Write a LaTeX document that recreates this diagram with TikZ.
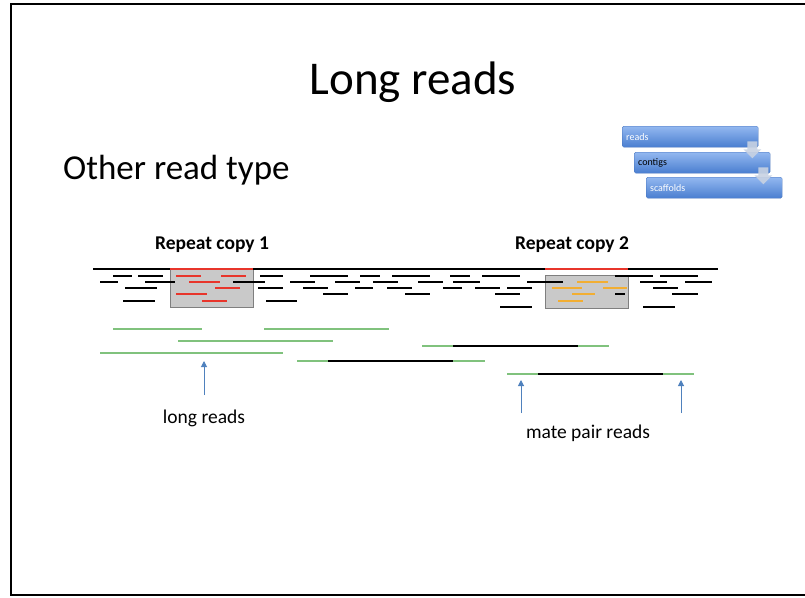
\documentclass[tikz,border=0pt]{standalone}
\usepackage{fontspec}
\setmainfont{Carlito}
\usetikzlibrary{calc,arrows.meta}
\definecolor{rdred}{HTML}{E8352B}
\definecolor{rdorange}{HTML}{F2AE32}
\definecolor{rdgreen}{HTML}{80C27D}
\definecolor{boxgray}{HTML}{C9C9C9}
\definecolor{boxedge}{HTML}{7F7F7F}
\definecolor{arrblue}{HTML}{4F81BD}
\definecolor{smtop}{HTML}{93B8F0}
\definecolor{smbot}{HTML}{4A7ED0}
\definecolor{smarr}{HTML}{C8D2E2}
\tikzset{
  rd/.style={line width=2.9pt, black},
  rdr/.style={line width=2.7pt, rdred},
  rdo/.style={line width=2.7pt, rdorange},
  gen/.style={line width=2.3pt, black},
  lr/.style={line width=2.3pt, rdgreen},
  mp/.style={line width=2.3pt, black},
  rbox/.style={fill=boxgray, draw=boxedge, line width=1pt},
  uparr/.style={draw=arrblue, line width=1pt, -{Triangle[length=6pt,width=6pt]}},
  sbox/.style={rounded corners=1.5pt, top color=smtop, bottom color=smbot, draw=smbot!90!black, line width=0.3pt,
    minimum width=136pt, minimum height=21pt, text width=128pt, align=left, inner xsep=4pt, inner ysep=0pt,
    anchor=north west, font=\fontsize{10}{11}\selectfont},
  sarr/.style={fill=smarr, fill opacity=0.9},
  lbl/.style={font=\fontsize{19.5}{22}\selectfont, inner sep=0pt},
  blbl/.style={font=\fontsize{19.5}{22}\selectfont\bfseries, inner sep=0pt}
}
\begin{document}
\begin{tikzpicture}[x=1pt,y=-1pt]
\useasboundingbox (0,0) rectangle (805,597);
% slide frame
\draw[line width=1.5pt] (830,4) -- (11,4) -- (11,595) -- (830,595);
% titles
\node[font=\fontsize{47}{50}\selectfont, anchor=base, inner sep=0pt] (title) at (413,94) {Long reads};
\node[font=\fontsize{35}{38}\selectfont, anchor=base west, inner sep=0pt] (sub) at (63,179) {Other read type};
% smartart
\node[sbox, text=white] (b1) at (622,126) {reads};
\node[sbox, text=black] (b2) at (634,152) {contigs};
\node[sbox, text=white] (b3) at (646,177) {scaffolds};
\fill[sarr] ($(b1.south east)+(-11,-6)$) -- ++(10,0) -- ++(0,8) -- ++(4,0) -- ++(-9,9) -- ++(-9,-9) -- ++(4,0) -- cycle;
\fill[sarr] ($(b2.south east)+(-12,-6)$) -- ++(10,0) -- ++(0,8) -- ++(4,0) -- ++(-9,9) -- ++(-9,-9) -- ++(4,0) -- cycle;
% repeat labels
\node[blbl, anchor=base] (rc1) at (212,249) {Repeat copy 1};
\node[blbl, anchor=base] (rc2) at (572,249) {Repeat copy 2};
% repeat boxes
\draw[rbox] (170,269) rectangle (253,307);
\draw[rbox] (545,275) rectangle (628,308);
% genome line
\draw[gen] (93,269) -- (718,269);
\draw[gen, rdred] (170,269) -- (253,269);
\draw[gen, rdred] (545,269) -- (628,269);
% black reads
\foreach \a/\b/\y in {
 113/132/276, 138/163/276, 260/283/276, 310/348/276, 360/380/276, 392/430/276, 450/470/276, 482/520/276, 615/653/276, 660/698/276,
 100/118/282, 145/175/282, 233/265/282, 290/315/282, 335/360/282, 373/398/282, 418/443/282, 453/480/282, 527/563/282, 640/667/282, 685/712/282,
 125/157/288, 258/283/288, 303/328/288, 355/373/288, 387/412/288, 443/462/288, 475/500/288, 507/532/288, 653/678/288,
 323/348/294, 405/430/294, 495/520/294, 615/625/294, 672/698/294,
 123/155/301, 266/297/301,
 500/532/307, 643/675/307}
 \draw[rd] (\a,\y) -- (\b,\y);
% red reads (repeat 1)
\foreach \a/\b/\y in {176/201/276, 221/246/276, 189/220/282, 215/240/288, 176/207/294, 202/227/301}
 \draw[rdr] (\a,\y) -- (\b,\y);
% orange reads (repeat 2)
\foreach \a/\b/\y in {577/608/282, 552/582/288, 603/627/288, 572/595/294, 558/583/301}
 \draw[rdo] (\a,\y) -- (\b,\y);
% long reads (green)
\foreach \a/\b/\y in {113/202/329, 264/389/329, 178/333/341, 100/283/353}
 \draw[lr] (\a,\y) -- (\b,\y);
% mate pairs
\foreach \a/\b/\c/\d/\y in {297/328/453/485/361, 422/453/578/609/346, 507/538/663/694/374}{
 \draw[mp] (\b,\y) -- (\c,\y);
 \draw[lr] (\a,\y) -- (\b,\y);
 \draw[lr] (\c,\y) -- (\d,\y);
}
% labels and arrows
\node[lbl, anchor=base] (lrl) at (204,423) {long reads};
\node[lbl, anchor=base] (mpl) at (588,438) {mate pair reads};
\coordinate (a1s) at (204,395); \coordinate (a1e) at (204,361);
\coordinate (a2s) at (521,413); \coordinate (a2e) at (521,380);
\coordinate (a3s) at (681,413); \coordinate (a3e) at (681,380);
\draw[uparr] (a1s) -- (a1e);
\draw[uparr] (a2s) -- (a2e);
\draw[uparr] (a3s) -- (a3e);
\end{tikzpicture}
\end{document}
